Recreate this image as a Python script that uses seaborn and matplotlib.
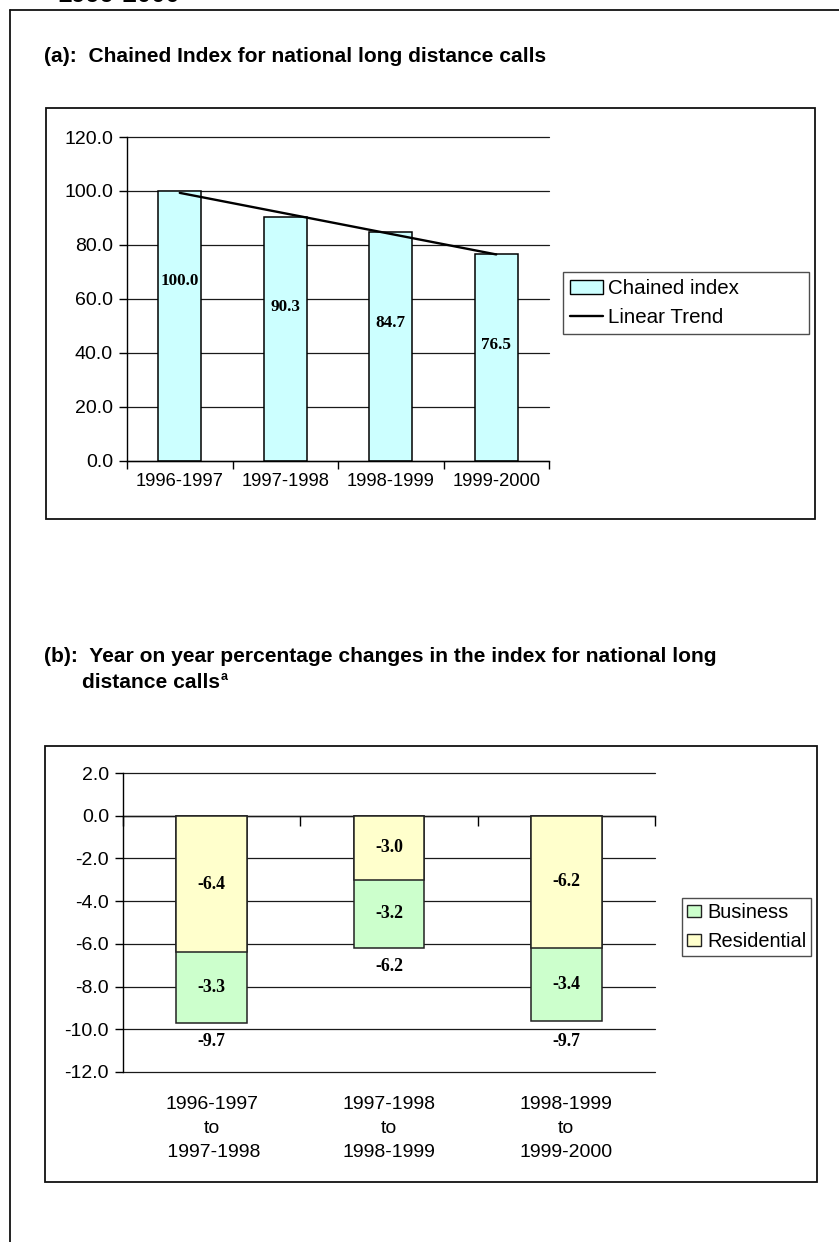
import numpy as np
import pandas as pd
import matplotlib
matplotlib.use("Agg")
import matplotlib.pyplot as plt
import seaborn as sns
from matplotlib.patches import Rectangle, Patch
from matplotlib.lines import Line2D

# ---------------- data ----------------
periods = ["1996-1997", "1997-1998", "1998-1999", "1999-2000"]
chained_index = [100.0, 90.3, 84.7, 76.5]

change_labels = ["1996-1997\nto\n 1997-1998", "1997-1998\nto\n1998-1999", "1998-1999\nto\n1999-2000"]
residential = [-6.4, -3.0, -6.2]
business = [-3.3, -3.2, -3.4]
totals = [-9.7, -6.2, -9.7]

a_ticks = [0, 20, 40, 60, 80, 100, 120]
b_ticks = [2, 0, -2, -4, -6, -8, -10, -12]

# ---------------- style ----------------
sns.set_theme(style="white")
plt.rcParams["font.family"] = ["Liberation Sans", "DejaVu Sans"]

W, H = 839, 1242
fig = plt.figure(figsize=(W / 100, H / 100), dpi=100, facecolor="white")


def fx(px):
    return px / W


def fy(py):
    return 1 - py / H


FRAME = "#111111"
# outer frame (left and top edges visible)
fig.add_artist(Line2D([fx(10), fx(10)], [fy(9.5), 0], color=FRAME, lw=1.3, transform=fig.transFigure))
fig.add_artist(Line2D([fx(10), 1], [fy(9.5), fy(9.5)], color=FRAME, lw=1.3, transform=fig.transFigure))
# chart boxes
fig.add_artist(Rectangle((fx(46), fy(519)), fx(815) - fx(46), fy(108) - fy(519), fill=False,
                         ec=FRAME, lw=1.3, transform=fig.transFigure))
fig.add_artist(Rectangle((fx(45), fy(1182)), fx(817) - fx(45), fy(746) - fy(1182), fill=False,
                         ec=FRAME, lw=1.3, transform=fig.transFigure))

# cut-off text at top (partially visible in the source page too)
fig.text(fx(57), fy(2.5), "1999-2000", fontsize=18.5, weight="bold", va="baseline", ha="left", color="black")

# titles
fig.text(fx(44), fy(56), "(a):  Chained Index for national long distance calls",
         fontsize=15.1, weight="bold", va="center", ha="left", color="black")
fig.text(fx(44), fy(657), "(b):  Year on year percentage changes in the index for national long",
         fontsize=15.1, weight="bold", va="center", ha="left", color="black")
t_dc = fig.text(fx(82), fy(682), "distance calls",
                fontsize=15.1, weight="bold", va="center", ha="left", color="black")
renderer = fig.canvas.get_renderer()
bb = t_dc.get_window_extent(renderer=renderer)
fig.text((bb.x1 + 0.5) / W, fy(677), "a", fontsize=9, weight="bold", va="center", ha="left", color="black")

XT_FS = 13.2
YT_FS = 14.0
GRID = "#1a1a1a"

# ---------------- panel (a) ----------------
ax1 = fig.add_axes([fx(127), fy(460.7), fx(549) - fx(127), fy(137) - fy(460.7)])
ax1.set_facecolor("white")
df_a = pd.DataFrame({"period": periods, "value": chained_index})
sns.barplot(data=df_a, x="period", y="value", color="#CCFFFF", saturation=1,
            edgecolor="black", linewidth=1.1, width=0.41, ax=ax1, zorder=2)

xpos = np.arange(len(periods))
coef = np.polyfit(xpos, chained_index, 1)
trend = np.polyval(coef, xpos)
sns.lineplot(x=xpos, y=trend, color="black", linewidth=1.7, ax=ax1, zorder=3)

for i, v in enumerate(chained_index):
    ax1.text(i, v - 33.5, f"{v:.1f}", ha="center", va="center",
             family="Liberation Serif", weight="bold", fontsize=12.3, color="black", zorder=4)

ax1.set_xlim(-0.5, len(periods) - 0.5)
ax1.set_ylim(0, 120)
ax1.set_axisbelow(True)
ax1.yaxis.grid(True, color=GRID, lw=0.9)
ax1.xaxis.grid(False)
ax1.set_yticks(a_ticks, [f"{t:.1f}" for t in a_ticks])
ax1.set_xticks(np.arange(-0.5, len(periods), 1.0), [""] * (len(periods) + 1))
ax1.set_xticks(xpos, periods, minor=True)
ax1.tick_params(axis="x", which="major", bottom=True, length=6, width=1, color="black", direction="out")
ax1.tick_params(axis="x", which="minor", bottom=True, length=0, pad=9, labelsize=XT_FS, labelcolor="black")
ax1.tick_params(axis="y", left=True, length=6, width=1, color="black", direction="out", pad=4,
                labelsize=YT_FS, labelcolor="black")
for gl in ax1.get_ygridlines():
    gl.set_clip_on(False)
ax1.set_xlabel("")
ax1.set_ylabel("")
for s in ["top", "right"]:
    ax1.spines[s].set_visible(False)
for s in ["left", "bottom"]:
    ax1.spines[s].set_color("black")
    ax1.spines[s].set_linewidth(1.0)

h_a = [Patch(facecolor="#CCFFFF", edgecolor="black", lw=1.0, label="Chained index"),
       Line2D([], [], color="black", lw=1.7, label="Linear Trend")]
leg_a = fig.legend(handles=h_a, loc="upper left",
                   bbox_to_anchor=(fx(563), fy(332), fx(809) - fx(563), fy(272) - fy(332)),
                   bbox_transform=fig.transFigure, mode="expand", frameon=True, fancybox=False,
                   edgecolor="#222222", fontsize=14.8, handlelength=1.6, handleheight=0.65,
                   handletextpad=0.25, borderpad=0.34, labelspacing=0.48, borderaxespad=0)
leg_a.get_frame().set_linewidth(1.0)
for t in leg_a.get_texts():
    t.set_color("black")

# ---------------- panel (b) ----------------
ax2 = fig.add_axes([fx(123), fy(1072), fx(655) - fx(123), fy(773) - fy(1072)])
ax2.set_facecolor("white")
combined = [r + b for r, b in zip(residential, business)]
df_b = pd.DataFrame({"period": change_labels, "Residential": residential,
                     "Business": business, "combined": combined})
sns.barplot(data=df_b, x="period", y="combined", color="#CCFFCC", saturation=1,
            edgecolor="#222222", linewidth=1.1, width=0.4, ax=ax2, zorder=2)
sns.barplot(data=df_b, x="period", y="Residential", color="#FFFFCC", saturation=1,
            edgecolor="#222222", linewidth=1.1, width=0.4, ax=ax2, zorder=2)

for i, (r, b, t) in enumerate(zip(residential, business, totals)):
    ax2.text(i, r / 2, f"{r:.1f}", ha="center", va="center", family="Liberation Serif",
             weight="bold", fontsize=12.8, color="black", zorder=4)
    ax2.text(i, r + b / 2, f"{b:.1f}", ha="center", va="center", family="Liberation Serif",
             weight="bold", fontsize=12.8, color="black", zorder=4)
    ax2.text(i, t - 0.85, f"{t:.1f}", ha="center", va="center", family="Liberation Serif",
             weight="bold", fontsize=12.8, color="black", zorder=4)

bpos = np.arange(len(change_labels))
ax2.set_xlim(-0.5, len(change_labels) - 0.5)
ax2.set_ylim(-12, 2)
ax2.set_axisbelow(True)
ax2.yaxis.grid(True, color=GRID, lw=0.9)
ax2.xaxis.grid(False)
ax2.set_yticks(b_ticks, [f"{t:.1f}" for t in b_ticks])
ax2.set_xticks(bpos, change_labels)
ax2.tick_params(axis="x", bottom=True, length=0, pad=17, labelsize=14.0, labelcolor="black")
for t in ax2.get_xticklabels():
    t.set_linespacing(1.55)
ax2.tick_params(axis="y", left=True, length=6, width=1, color="black", direction="out", pad=4,
                labelsize=YT_FS, labelcolor="black")
for gl in ax2.get_ygridlines():
    gl.set_clip_on(False)
ax2.set_xlabel("")
ax2.set_ylabel("")
for s in ["top", "right", "bottom"]:
    ax2.spines[s].set_visible(False)
ax2.spines["left"].set_color("black")
ax2.spines["left"].set_linewidth(1.0)

sec = ax2.secondary_xaxis(0, transform=ax2.transData)
sec.set_xticks(np.arange(-0.5, len(change_labels), 1.0), [""] * (len(change_labels) + 1))
sec.tick_params(axis="x", length=7, width=1, color="black", direction="out")
sec.spines["bottom"].set_color("black")
sec.spines["bottom"].set_linewidth(1.0)

h_b = [Patch(facecolor="#CCFFCC", edgecolor="#222222", lw=1.0, label="Business"),
       Patch(facecolor="#FFFFCC", edgecolor="#222222", lw=1.0, label="Residential")]
leg_b = fig.legend(handles=h_b, loc="upper left",
                   bbox_to_anchor=(fx(682), fy(955), fx(811) - fx(682), fy(898) - fy(955)),
                   bbox_transform=fig.transFigure, mode="expand", frameon=True, fancybox=False,
                   edgecolor="#222222", fontsize=14.4, handlelength=0.7, handleheight=0.6,
                   handletextpad=0.3, borderpad=0.25, labelspacing=0.5, borderaxespad=0)
leg_b.get_frame().set_linewidth(1.0)
for t in leg_b.get_texts():
    t.set_color("black")

fig.savefig("out.png", dpi=100, facecolor="white")
